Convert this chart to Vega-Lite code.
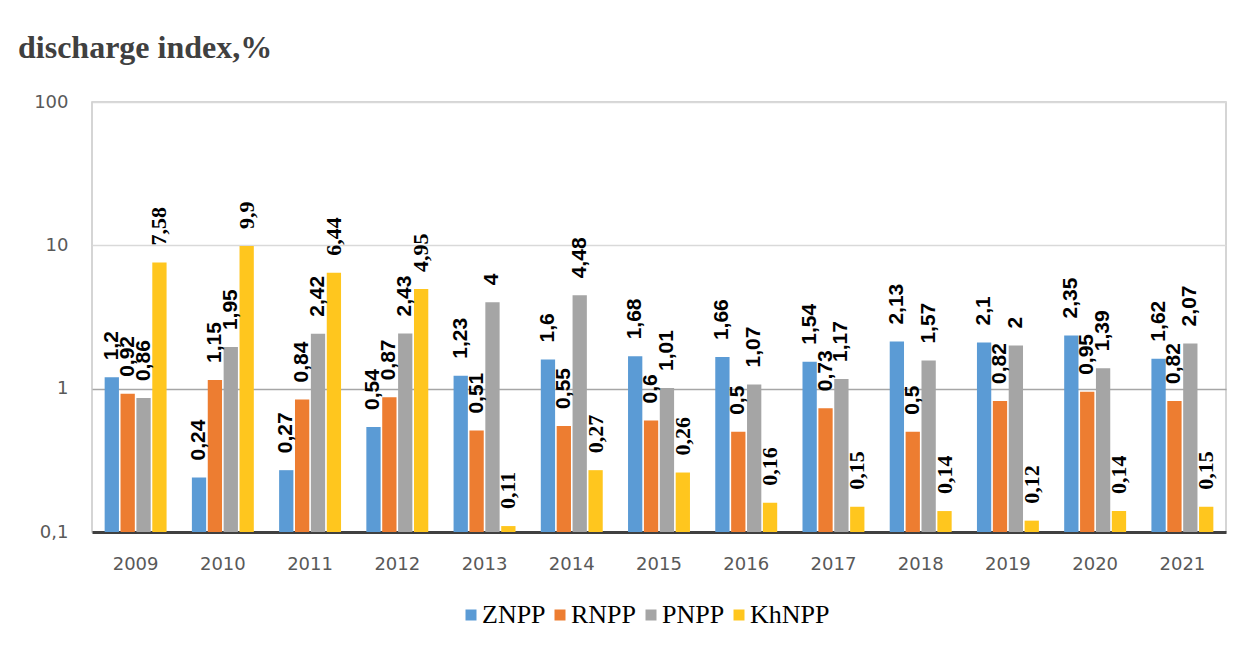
{
  "$schema": "https://vega.github.io/schema/vega-lite/v6.json",
  "autosize": {"type": "none"},
  "width": 1134,
  "height": 430,
  "padding": {"left": 92, "top": 102, "right": 31, "bottom": 117},
  "background": "white",
  "title": {
    "text": "discharge index,%",
    "anchor": "start",
    "frame": "group",
    "baseline": "alphabetic",
    "offset": 3,
    "dx": -74,
    "font": "Liberation Serif",
    "fontSize": 32,
    "fontWeight": "bold",
    "color": "#404040"
  },
  "config": {
    "locale": {"number": {"decimal": ",", "thousands": " ", "grouping": [3], "currency": ["", ""]}},
    "view": {"stroke": "#c8c8c8", "strokeWidth": 1.5},
    "axis": {"labelFont": "DejaVu Sans", "labelFontSize": 18, "labelColor": "#595959", "ticks": false, "title": null}
  },
  "datasets": {
    "npp": [
      {"year": "2009", "plant": "ZNPP", "value": 1.2},
      {"year": "2009", "plant": "RNPP", "value": 0.92},
      {"year": "2009", "plant": "PNPP", "value": 0.86},
      {"year": "2009", "plant": "KhNPP", "value": 7.58},
      {"year": "2010", "plant": "ZNPP", "value": 0.24},
      {"year": "2010", "plant": "RNPP", "value": 1.15},
      {"year": "2010", "plant": "PNPP", "value": 1.95},
      {"year": "2010", "plant": "KhNPP", "value": 9.9},
      {"year": "2011", "plant": "ZNPP", "value": 0.27},
      {"year": "2011", "plant": "RNPP", "value": 0.84},
      {"year": "2011", "plant": "PNPP", "value": 2.42},
      {"year": "2011", "plant": "KhNPP", "value": 6.44},
      {"year": "2012", "plant": "ZNPP", "value": 0.54},
      {"year": "2012", "plant": "RNPP", "value": 0.87},
      {"year": "2012", "plant": "PNPP", "value": 2.43},
      {"year": "2012", "plant": "KhNPP", "value": 4.95},
      {"year": "2013", "plant": "ZNPP", "value": 1.23},
      {"year": "2013", "plant": "RNPP", "value": 0.51},
      {"year": "2013", "plant": "PNPP", "value": 4},
      {"year": "2013", "plant": "KhNPP", "value": 0.11},
      {"year": "2014", "plant": "ZNPP", "value": 1.6},
      {"year": "2014", "plant": "RNPP", "value": 0.55},
      {"year": "2014", "plant": "PNPP", "value": 4.48},
      {"year": "2014", "plant": "KhNPP", "value": 0.27},
      {"year": "2015", "plant": "ZNPP", "value": 1.68},
      {"year": "2015", "plant": "RNPP", "value": 0.6},
      {"year": "2015", "plant": "PNPP", "value": 1.01},
      {"year": "2015", "plant": "KhNPP", "value": 0.26},
      {"year": "2016", "plant": "ZNPP", "value": 1.66},
      {"year": "2016", "plant": "RNPP", "value": 0.5},
      {"year": "2016", "plant": "PNPP", "value": 1.07},
      {"year": "2016", "plant": "KhNPP", "value": 0.16},
      {"year": "2017", "plant": "ZNPP", "value": 1.54},
      {"year": "2017", "plant": "RNPP", "value": 0.73},
      {"year": "2017", "plant": "PNPP", "value": 1.17},
      {"year": "2017", "plant": "KhNPP", "value": 0.15},
      {"year": "2018", "plant": "ZNPP", "value": 2.13},
      {"year": "2018", "plant": "RNPP", "value": 0.5},
      {"year": "2018", "plant": "PNPP", "value": 1.57},
      {"year": "2018", "plant": "KhNPP", "value": 0.14},
      {"year": "2019", "plant": "ZNPP", "value": 2.1},
      {"year": "2019", "plant": "RNPP", "value": 0.82},
      {"year": "2019", "plant": "PNPP", "value": 2},
      {"year": "2019", "plant": "KhNPP", "value": 0.12},
      {"year": "2020", "plant": "ZNPP", "value": 2.35},
      {"year": "2020", "plant": "RNPP", "value": 0.95},
      {"year": "2020", "plant": "PNPP", "value": 1.39},
      {"year": "2020", "plant": "KhNPP", "value": 0.14},
      {"year": "2021", "plant": "ZNPP", "value": 1.62},
      {"year": "2021", "plant": "RNPP", "value": 0.82},
      {"year": "2021", "plant": "PNPP", "value": 2.07},
      {"year": "2021", "plant": "KhNPP", "value": 0.15}
    ]
  },
  "data": {"name": "npp"},
  "encoding": {
    "x": {
      "field": "year", "type": "nominal",
      "scale": {"paddingInner": 0.29, "paddingOuter": 0.145},
      "axis": {"labelAngle": 0, "domainColor": "#404040", "domainWidth": 3, "labelPadding": 23}
    },
    "xOffset": {
      "field": "plant", "type": "nominal",
      "sort": ["ZNPP", "RNPP", "PNPP", "KhNPP"],
      "scale": {"paddingInner": 0.1}
    },
    "y": {
      "field": "value", "type": "quantitative",
      "scale": {"type": "log", "domain": [0.1, 100]},
      "axis": {
        "values": [0.1, 1, 10, 100],
        "labelExpr": "replace(datum.label, '.', ',')",
        "domain": false,
        "labelPadding": 24,
        "gridColor": {"condition": {"test": "datum.value === 1", "value": "#a6a6a6"}, "value": "#d9d9d9"},
        "gridWidth": 1.5
      }
    }
  },
  "layer": [
    {
      "mark": {"type": "bar"},
      "encoding": {
        "y2": {"datum": 0.1},
        "color": {
          "field": "plant", "type": "nominal",
          "sort": ["ZNPP", "RNPP", "PNPP", "KhNPP"],
          "scale": {"domain": ["ZNPP", "RNPP", "PNPP", "KhNPP"], "range": ["#5b9bd5", "#ed7d31", "#a5a5a5", "#ffc61e"]},
          "legend": {
            "title": null,
            "orient": "none",
            "direction": "horizontal",
            "legendX": 366,
            "legendY": 500,
            "symbolType": "square",
            "symbolSize": 121,
            "symbolStrokeWidth": 0,
            "labelFont": "Liberation Serif",
            "labelFontSize": 26,
            "labelColor": "#000000",
            "labelOffset": -2,
            "columnPadding": 1
          }
        }
      }
    },
    {
      "transform": [{"filter": "datum.plant !== 'KhNPP'"}],
      "mark": {"type": "text", "angle": 270, "align": "left", "baseline": "middle", "dx": 17, "font": "Liberation Sans", "fontSize": 21, "fontWeight": "bold", "color": "#000000"},
      "encoding": {"text": {"field": "value", "type": "quantitative", "format": ".3~r"}}
    },
    {
      "transform": [{"filter": "datum.plant === 'KhNPP'"}],
      "mark": {"type": "text", "angle": 270, "align": "left", "baseline": "middle", "dx": 17, "font": "Liberation Serif", "fontSize": 22, "fontWeight": "bold", "color": "#000000"},
      "encoding": {"text": {"field": "value", "type": "quantitative", "format": ".3~r"}}
    }
  ]
}
